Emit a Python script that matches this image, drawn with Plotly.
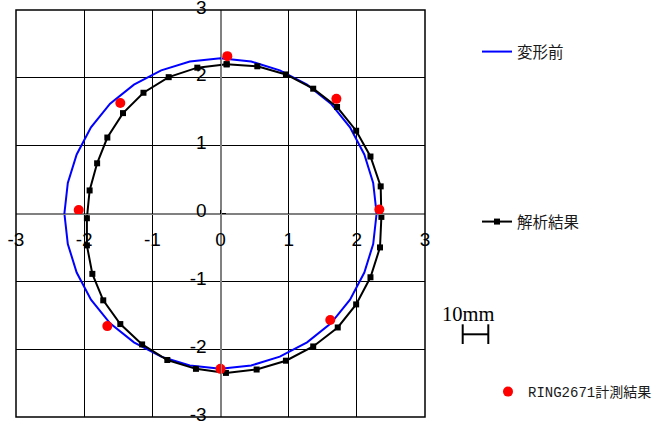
import plotly.graph_objects as go

# 変形前: undeformed ring outline (32 vertices)
before_x = [2.29, 2.24, 2.11, 1.90, 1.62, 1.27, 0.87, 0.45, 0.00, -0.45, -0.87, -1.27, -1.62, -1.90, -2.11, -2.24,
            -2.29, -2.24, -2.11, -1.90, -1.62, -1.27, -0.87, -0.45, 0.00, 0.45, 0.87, 1.27, 1.62, 1.90, 2.11, 2.24, 2.29]
before_y = [0.00, 0.45, 0.87, 1.27, 1.62, 1.90, 2.11, 2.24, 2.29, 2.24, 2.11, 1.90, 1.62, 1.27, 0.87, 0.45,
            0.00, -0.45, -0.87, -1.27, -1.62, -1.90, -2.11, -2.24, -2.29, -2.24, -2.11, -1.90, -1.62, -1.27, -0.87, -0.45, 0.00]

# 解析結果: computed deformed shape
calc_x = [0.09, 0.54, 0.96, 1.36, 1.71, 1.99, 2.20, 2.35, 2.36, 2.34, 2.20, 1.99, 1.72, 1.36, 0.96, 0.53,
          0.08, -0.36, -0.78, -1.15, -1.47, -1.72, -1.88, -1.96, -1.96, -1.92, -1.81, -1.66, -1.43, -1.13, -0.76, -0.34, 0.09]
calc_y = [2.20, 2.17, 2.05, 1.84, 1.57, 1.22, 0.84, 0.40, -0.05, -0.50, -0.94, -1.34, -1.68, -1.96, -2.17, -2.30,
          -2.35, -2.29, -2.16, -1.93, -1.63, -1.28, -0.89, -0.47, -0.07, 0.34, 0.74, 1.12, 1.48, 1.78, 2.01, 2.15, 2.20]

# RING2671計測結果: measured points
meas_x = [0.10, 1.70, 2.33, 1.61, 0.00, -1.66, -2.08, -1.47]
meas_y = [2.32, 1.69, 0.06, -1.57, -2.29, -1.66, 0.05, 1.63]

tick_vals = [-3, -2, -1, 0, 1, 2, 3]
tick_text = ["-3", "-2", "-1", "0", "1", "2", "3"]

# plot area in pixels (used to place side items in paper units)
PL, PR, PT, PB = 16, 425, 10, 417
W, H = 663, 421


def px(xp):
    return (xp - PL) / (PR - PL)


def py(yp):
    return (PB - yp) / (PB - PT)


fig = go.Figure()
fig.add_trace(go.Scatter(x=before_x, y=before_y, mode="lines", name="変形前",
                         line=dict(color="#0000ff", width=2), legend="legend"))
fig.add_trace(go.Scatter(x=calc_x, y=calc_y, mode="lines+markers", name="解析結果",
                         line=dict(color="#000000", width=2),
                         marker=dict(symbol="square", size=6, color="#000000"), legend="legend2"))
fig.add_trace(go.Scatter(x=meas_x, y=meas_y, mode="markers", name="RING2671計測結果",
                         marker=dict(symbol="circle", size=10, color="#ff0000"), legend="legend3"))

axis_common = dict(
    range=[-3, 3], tickmode="array", tickvals=tick_vals, ticktext=tick_text,
    showgrid=True, gridcolor="#000000", gridwidth=1,
    zeroline=True, zerolinecolor="#808080", zerolinewidth=1,
    showline=True, linecolor="#808080", linewidth=1,
    ticks="inside", ticklen=4, tickcolor="#000000", tickwidth=1,
    tickfont=dict(family="Liberation Sans Narrow, Liberation Sans, Arial", size=19, color="#000000"),
    ticklabeloverflow="allow", automargin=False,
    anchor="free", position=0.5, fixedrange=True,
)

cjk_font = dict(family="Noto Sans CJK JP", size=15.5, color="#1a1a1a")

fig.update_layout(
    width=W, height=H,
    margin=dict(l=PL, r=W - PR, t=PT, b=H - PB, autoexpand=False),
    paper_bgcolor="#ffffff", plot_bgcolor="#ffffff",
    xaxis=dict(**axis_common, side="bottom", ticklabelstandoff=9),
    yaxis=dict(**axis_common, side="left", ticklabelstandoff=10, ticklabelshift=-3),
    hovermode=False,
    showlegend=True,
    legend=dict(x=px(477), y=py(52), xanchor="left", yanchor="middle", bgcolor="rgba(0,0,0,0)",
                font=cjk_font),
    legend2=dict(x=px(477), y=py(222), xanchor="left", yanchor="middle", bgcolor="rgba(0,0,0,0)",
                 font=cjk_font),
    legend3=dict(x=px(488), y=py(392), xanchor="left", yanchor="middle", bgcolor="rgba(0,0,0,0)",
                 font=dict(family="Liberation Mono, Noto Sans CJK JP", size=14, color="#1a1a1a")),
    shapes=[
        # plot frame
        dict(type="rect", xref="paper", yref="paper", x0=0, y0=0, x1=1, y1=1,
             line=dict(color="#000000", width=1.5)),
        # 10mm scale bar
        dict(type="line", xref="paper", yref="paper", x0=px(462.7), x1=px(462.7), y0=py(344), y1=py(324.3),
             line=dict(color="#000000", width=2)),
        dict(type="line", xref="paper", yref="paper", x0=px(488.3), x1=px(488.3), y0=py(344), y1=py(324.3),
             line=dict(color="#000000", width=2)),
        dict(type="line", xref="paper", yref="paper", x0=px(462.7), x1=px(488.3), y0=py(334.3), y1=py(334.3),
             line=dict(color="#000000", width=2)),
    ],
    annotations=[
        dict(text="10mm", xref="paper", yref="paper", x=px(468), y=py(314), xanchor="center", yanchor="middle",
             showarrow=False, font=dict(family="Liberation Serif, Times New Roman", size=20.5, color="#000000")),
    ],
)

fig.write_html("out.html")
